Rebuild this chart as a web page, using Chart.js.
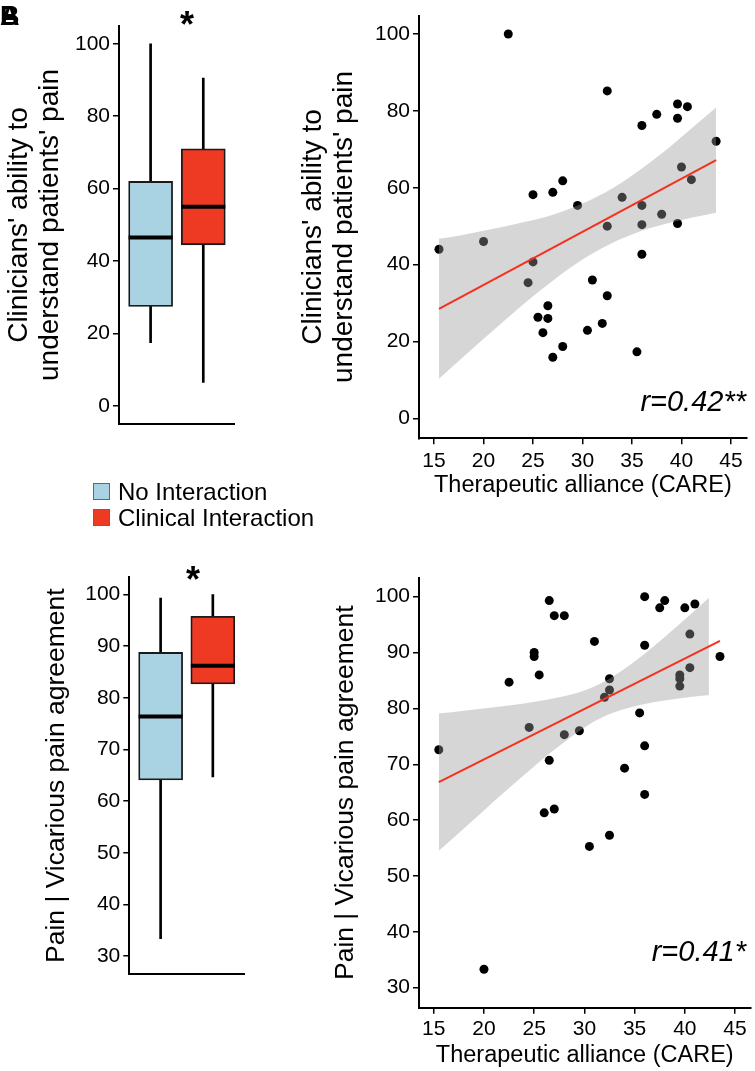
<!DOCTYPE html>
<html>
<head>
<meta charset="utf-8">
<script src="https://cdn.jsdelivr.net/npm/chart.js@4.4.1/dist/chart.umd.min.js"></script>
<style>
  body { margin: 0; background: #fff; }
  #page { position: relative; width: 755px; height: 1071px; overflow: hidden;
          font-family: "Liberation Sans", Arial, sans-serif; color: #000; }
  canvas { position: absolute; }
  .txt { position: absolute; line-height: 1; white-space: nowrap; }
  .panel { font-size: 27px; font-weight: bold; left: 0; top: 3px; }
  .star { font-size: 36px; font-weight: bold; transform: translateX(-50%); }
  .r { font-size: 29px; font-style: italic; right: 9px; }
  .leg { font-size: 24px; left: 118px; }
  .sw { position: absolute; width: 15px; height: 15px; left: 93px; border: 1px solid #666; }
</style>
</head>
<body>
<div id="page">
  <canvas id="boxTop" width="260" height="450" style="left:0;top:0"></canvas>
  <canvas id="scatTop" width="465" height="500" style="left:290px;top:0"></canvas>
  <canvas id="boxBot" width="270" height="460" style="left:0;top:540px"></canvas>
  <canvas id="scatBot" width="465" height="531" style="left:290px;top:540px"></canvas>

  <div class="txt panel">B</div>
  <div class="txt panel">A</div>
  <div class="txt star" style="left:187px;top:7px">*</div>
  <div class="txt star" style="left:193px;top:562px">*</div>
  <div class="txt r" style="top:387px">r=0.42**</div>
  <div class="txt r" style="top:937px">r=0.41*</div>

  <div class="sw" style="top:483px;background:#a9d3e3"></div>
  <div class="sw" style="top:509px;background:#ee3a23"></div>
  <div class="txt leg" style="top:479.7px">No Interaction</div>
  <div class="txt leg" style="top:506.4px">Clinical Interaction</div>
</div>

<script>
// groups
const groups = ["No Interaction", "Clinical Interaction"];
const groupPos = [1, 2];
const groupColors = ["#a9d3e3", "#ee3a23"];

// Clinicians' ability to understand patients' pain (boxplot stats)
const abilityLow = [17.5, 6.5];
const abilityQ1 = [27.5, 44.5];
const abilityMed = [46.5, 55];
const abilityQ3 = [62, 71];
const abilityHigh = [100, 90.5];

// Pain | Vicarious pain agreement (boxplot stats)
const agreeLow = [33.4, 64.7];
const agreeQ1 = [64.1, 82.7];
const agreeMed = [76.4, 86.2];
const agreeQ3 = [88.8, 95.8];
const agreeHigh = [99.3, 100];

// scatter: therapeutic alliance vs clinicians' ability
const careTop = [22.5, 32.5, 39.6, 40.6, 37.5, 39.6, 36.0, 43.5, 40.0, 41.0, 28.0, 25.0,
  27.0, 29.5, 34.0, 36.0, 38.0, 32.5, 36.0, 39.6, 15.5, 20.0, 36.0, 25.0,
  24.5, 31.0, 32.5, 26.5, 25.5, 26.5, 26.0, 30.5, 32.0, 28.0, 27.0, 35.5];
const abilityTop = [100, 85.2, 81.8, 81.1, 79.1, 78.1, 76.2, 72.1, 65.4, 62.1, 61.8, 58.2,
  58.8, 55.4, 57.5, 55.4, 53.1, 50.0, 50.4, 50.7, 44.0, 46.0, 42.7, 40.7,
  35.3, 36.0, 31.9, 29.3, 26.3, 26.0, 22.3, 22.9, 24.7, 18.7, 15.9, 17.3];
const fitTopX = [15.5, 43.5];
const fitTopY = [28.5, 67.2];
const bandTopX = [15.5, 18, 21, 24, 27, 30, 33, 36, 39, 41, 43.5];
const bandTopHi = [46.7, 47.8, 49.3, 51.0, 53.0, 55.9, 59.8, 65.0, 71.0, 75.4, 80.9];
const bandTopLo = [10.3, 16.1, 22.9, 29.6, 35.8, 41.3, 45.6, 48.8, 51.0, 52.2, 53.5];

// scatter: therapeutic alliance vs vicarious pain agreement
const careBot = [15.5, 22.5, 24.5, 25.0, 25.0, 25.5, 26.5, 27.0, 28.0, 26.5, 28.0, 29.5,
  31.0, 32.0, 32.5, 32.5, 35.5, 36.0, 36.0, 36.0, 34.0, 36.0, 37.5, 38.0,
  40.0, 41.0, 40.5, 40.5, 39.5, 39.5, 39.5, 43.5, 26.0, 27.0, 30.5, 32.5, 20.0];
const agreeBot = [72.6, 84.7, 76.6, 90.0, 89.3, 86.0, 99.3, 96.6, 96.6, 70.7, 75.3, 76.0,
  92.0, 82.0, 85.3, 83.3, 79.2, 100, 91.3, 73.3, 69.3, 64.6, 98.0, 99.3,
  98.0, 98.7, 93.3, 87.3, 86.0, 85.3, 84.0, 89.3, 61.3, 62.0, 55.3, 57.3, 33.3];
const fitBotX = [15.5, 43.5];
const fitBotY = [66.8, 92.1];
const bandBotX = [15.5, 18, 21, 24, 27, 30, 32, 34, 36, 38, 40, 42.4];
const bandBotHi = [79.1, 79.6, 80.2, 80.9, 81.8, 83.2, 84.8, 87.1, 89.8, 92.8, 95.9, 99.8];
const bandBotLo = [54.5, 58.5, 63.4, 68.1, 72.6, 76.6, 78.6, 79.9, 80.8, 81.4, 81.9, 82.4];

// tick labels
const ticks0to100 = [0, 20, 40, 60, 80, 100];
const ticks30to100 = [30, 40, 50, 60, 70, 80, 90, 100];
const careTicks = [15, 20, 25, 30, 35, 40, 45];

const abilityTitle = ["Clinicians' ability to", "understand patients' pain"];
const agreeTitle = "Pain | Vicarious pain agreement";
const careTitle = "Therapeutic alliance (CARE)";

Chart.defaults.font.family = '"Liberation Sans", Arial, sans-serif';
Chart.defaults.color = "#000";

const border = { display: true, color: "#000", width: 2 };

function yAxis(min, max, tickVals, width, title, titleSize, titlePad) {
  return {
    type: "linear", min: min, max: max,
    afterBuildTicks: s => { s.ticks = tickVals.map(v => ({ value: v })); },
    afterFit: s => { s.width = width; },
    border: border,
    grid: { drawOnChartArea: false, drawTicks: true, tickLength: 6, color: "#000", lineWidth: 1.5 },
    ticks: { color: "#000", font: { size: 21 }, padding: 3 },
    title: { display: true, text: title, color: "#000",
             font: { size: titleSize, lineHeight: 1.12 }, padding: { top: titlePad, bottom: 0 } }
  };
}

function xy(xs, ys) {
  return xs.map((x, i) => ({ x: x, y: ys[i] }));
}

function boxPlot(id, low, q1, med, q3, high, yMin, yMax, yTicks, xMin, xMax, yWidth, xHeight, pad, title, titleSize, titlePad) {
  new Chart(document.getElementById(id), {
    type: "bar",
    data: {
      datasets: [
        {
          type: "line", data: xy(groupPos, med), showLine: false,
          pointStyle: "line", pointRadius: 22, pointBorderWidth: 4,
          borderColor: "#000", order: 0
        },
        {
          label: "box", data: groupPos.map((x, i) => ({ x: x, y: [q1[i], q3[i]] })),
          backgroundColor: groupColors, borderColor: "#1a1a1a", borderWidth: 1.8,
          borderSkipped: false, barThickness: 44, grouped: false, order: 1
        },
        {
          label: "whisker", data: groupPos.map((x, i) => ({ x: x, y: [low[i], high[i]] })),
          backgroundColor: "#000", barThickness: 2, grouped: false, order: 2
        }
      ]
    },
    options: {
      responsive: false,
      animation: false,
      events: [],
      layout: { padding: pad },
      plugins: { legend: { display: false }, tooltip: { enabled: false } },
      scales: {
        x: {
          type: "linear", min: xMin, max: xMax, offset: false,
          afterFit: s => { s.height = xHeight; },
          border: border, grid: { display: false }, ticks: { display: false }
        },
        y: yAxis(yMin, yMax, yTicks, yWidth, title, titleSize, titlePad)
      }
    }
  });
}

function scatterPlot(id, xs, ys, fitX, fitY, bandX, bandHi, bandLo, xMin, xMax, yMin, yMax, yTicks, yWidth, xHeight, pad, title, titleSize, titlePad, xTickPad, xTitlePad) {
  new Chart(document.getElementById(id), {
    type: "scatter",
    data: {
      datasets: [
        {
          type: "line", data: xy(fitX, fitY), showLine: true,
          borderColor: "#f5301e", borderWidth: 2, pointRadius: 0, order: 0
        },
        {
          type: "line", data: xy(bandX, bandHi), showLine: true, fill: "+1",
          backgroundColor: "rgba(153,153,153,0.4)", borderWidth: 0, pointRadius: 0,
          cubicInterpolationMode: "monotone", order: 1
        },
        {
          type: "line", data: xy(bandX, bandLo), showLine: true, fill: false,
          borderWidth: 0, pointRadius: 0, cubicInterpolationMode: "monotone", order: 2
        },
        {
          data: xy(xs, ys), pointRadius: 4.5, backgroundColor: "#000",
          borderWidth: 0, order: 3
        }
      ]
    },
    options: {
      responsive: false,
      animation: false,
      events: [],
      layout: { padding: pad },
      plugins: { legend: { display: false }, tooltip: { enabled: false } },
      scales: {
        x: {
          type: "linear", min: xMin, max: xMax,
          afterBuildTicks: s => { s.ticks = careTicks.map(v => ({ value: v })); },
          afterFit: s => { s.height = xHeight; },
          border: border,
          grid: { drawOnChartArea: false, drawTicks: true, tickLength: 6, color: "#000", lineWidth: 1.5 },
          ticks: { color: "#000", font: { size: 21 }, padding: xTickPad, maxRotation: 0 },
          title: { display: true, text: careTitle, color: "#000",
                   font: { size: 23.5, lineHeight: 1.2 }, padding: { top: 0, bottom: xTitlePad } }
        },
        y: yAxis(yMin, yMax, yTicks, yWidth, title, titleSize, titlePad)
      }
    }
  });
}

boxPlot("boxTop", abilityLow, abilityQ1, abilityMed, abilityQ3, abilityHigh,
  -4.95, 104.9, ticks0to100, 0.4, 2.583, 119, 14,
  { top: 14, right: 10, left: 0, bottom: 0 }, abilityTitle, 28, 3.3);

boxPlot("boxBot", agreeLow, agreeQ1, agreeMed, agreeQ3, agreeHigh,
  26.55, 103.34, ticks30to100, 0.4, 2.597, 129.3, 15.7,
  { top: 37.3, right: 10, left: 0, bottom: 0 }, agreeTitle, 26.5, 42.2);

scatterPlot("scatTop", careTop, abilityTop, fitTopX, fitTopY, bandTopX, bandTopHi, bandTopLo,
  13.48, 46.59, -5.2, 104.8, ticks0to100, 129, 61.7,
  { top: 14, right: 8.3, left: 0, bottom: 0 }, abilityTitle, 28, 7.3, 4, 0);

scatterPlot("scatBot", careBot, agreeBot, fitBotX, fitBotY, bandBotX, bandBotHi, bandBotLo,
  13.53, 46.54, 26.42, 103.4, ticks30to100, 129, 63.3,
  { top: 37.7, right: 0, left: 0, bottom: 0 }, agreeTitle, 26.5, 41.2, 3, 1.2);
</script>
</body>
</html>
